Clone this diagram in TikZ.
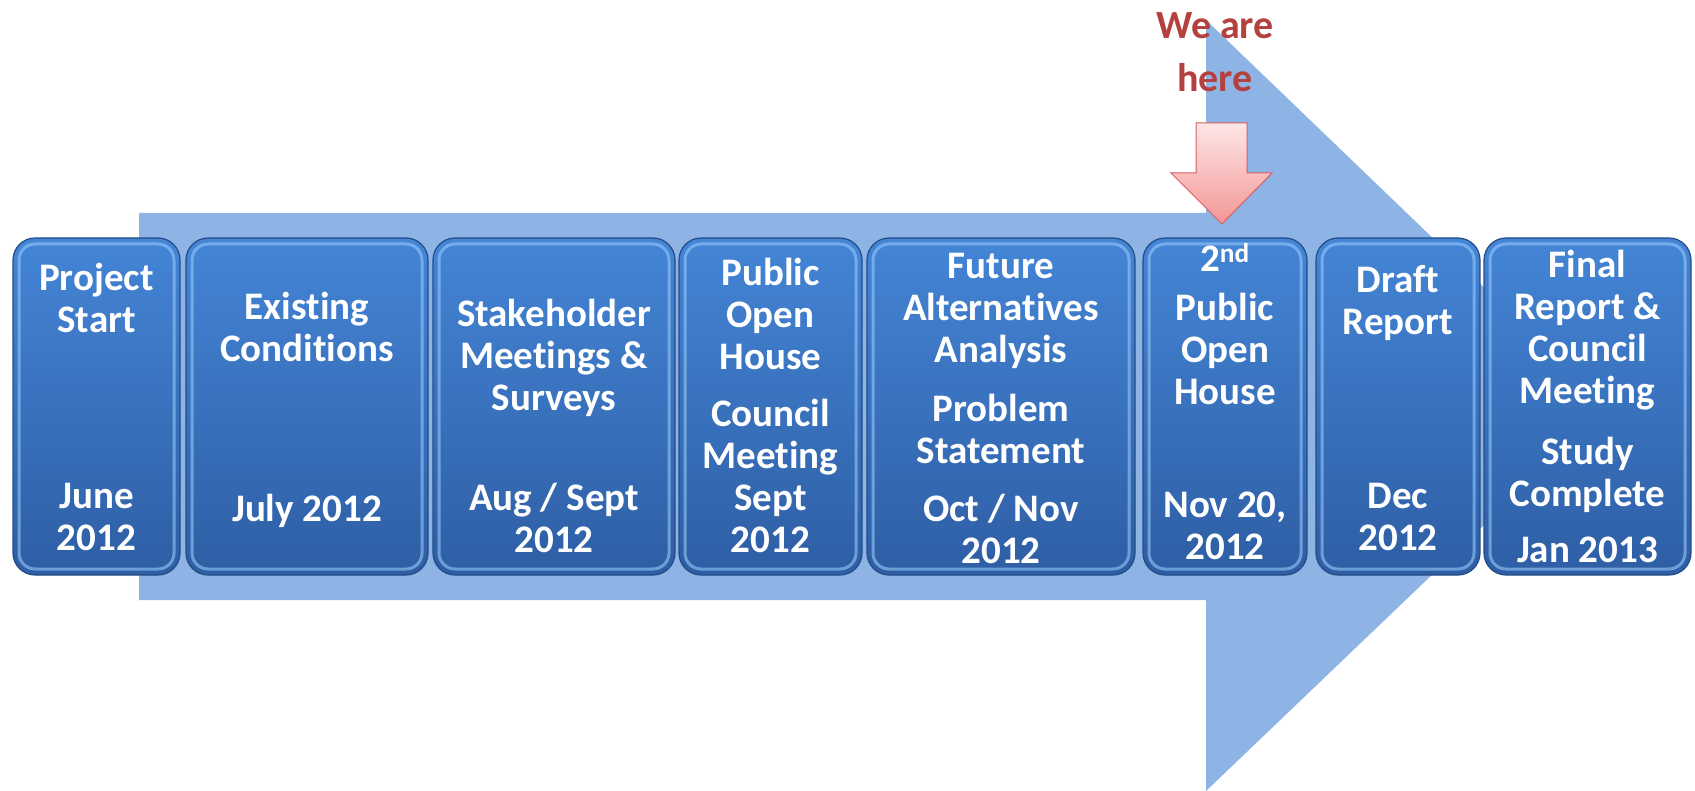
\documentclass[tikz,border=0pt]{standalone}
\usepackage{fontspec}
\setmainfont{Carlito}[Ligatures=NoCommon]
\definecolor{arrowblue}{RGB}{142,180,230}
\definecolor{boxtop}{RGB}{68,133,214}
\definecolor{boxbot}{RGB}{46,94,164}
\definecolor{boxedge}{RGB}{36,76,134}
\definecolor{boxhi}{RGB}{150,200,250}
\definecolor{pinktop}{RGB}{253,230,230}
\definecolor{pinkbot}{RGB}{243,150,150}
\definecolor{pinkedge}{RGB}{215,95,95}
\definecolor{herered}{RGB}{181,65,63}
\begin{document}
\begin{tikzpicture}[x=1pt,y=-1pt,
  stagebox/.style={draw=boxedge, line width=1.2pt, rounded corners=22pt,
    top color=boxtop, bottom color=boxbot, minimum height=337pt, inner sep=0pt,
    path picture={\draw[boxhi, line width=3pt, opacity=0.6, rounded corners=16pt]
      ([shift={(6pt,6pt)}]path picture bounding box.south west) rectangle
      ([shift={(-6pt,-6pt)}]path picture bounding box.north east);}},
  lbl/.style={text=white, font=\bfseries\fontsize{39}{42}\selectfont, align=center, inner sep=0pt},
  herelbl/.style={text=herered, font=\bfseries\fontsize{40}{53}\selectfont, align=center, inner sep=0pt},
]
\useasboundingbox (0,0) rectangle (1695,791);
% big background arrow
\fill[arrowblue] (139,213) -- (1206,213) -- (1206,20) -- (1608,406.5) -- (1206,791) -- (1206,600) -- (139,600) -- cycle;

% stage boxes
\node[stagebox, minimum width=167pt] (b1) at (96.5,406.5) {};
\node[stagebox, minimum width=242pt] (b2) at (307,406.5) {};
\node[stagebox, minimum width=242pt] (b3) at (554,406.5) {};
\node[stagebox, minimum width=183pt] (b4) at (770.5,406.5) {};
\node[stagebox, minimum width=268pt] (b5) at (1001,406.5) {};
\node[stagebox, minimum width=164pt] (b6) at (1225,406.5) {};
\node[stagebox, minimum width=164pt] (b7) at (1398,406.5) {};
\node[stagebox, minimum width=207pt] (b8) at (1587.5,406.5) {};

% labels
\node[lbl] (t1a) at (96.5,297.5) {Project\\Start};
\node[lbl] (t1b) at (96.5,516.5) {June\\2012};
\node[lbl] (t2a) at (307,326.5) {Existing\\Conditions};
\node[lbl] (t2b) at (307,510.5) {July 2012};
\node[lbl] (t3a) at (554,357.5) {Stakeholder\\Meetings \&\\Surveys};
\node[lbl] (t3b) at (554,517.5) {Aug / Sept\\2012};
\node[lbl] (t4a) at (770.5,313.5) {Public\\Open\\House};
\node[lbl] (t4b) at (770.5,475.5) {Council\\Meeting\\Sept\\2012};
\node[lbl] (t5a) at (1001,310.5) {Future\\Alternatives\\Analysis};
\node[lbl] (t5b) at (1001,428.5) {Problem\\Statement};
\node[lbl] (t5c) at (1001,529) {Oct / Nov\\2012};
\node[lbl] (t6a) at (1225,257) {2\textsuperscript{nd}};
\node[lbl] (t6b) at (1225,349) {Public\\Open\\House};
\node[lbl] (t6c) at (1225,525.5) {Nov 20,\\2012};
\node[lbl] (t7a) at (1398,303) {Draft\\Report};
\node[lbl] (t7b) at (1398,516.5) {Dec\\2012};
\node[lbl] (t8a) at (1587.5,330) {Final\\Report \&\\Council\\Meeting};
\node[lbl] (t8b) at (1587.5,474.5) {Study\\Complete};
\node[lbl] (t8c) at (1587.5,550) {Jan 2013};

% "We are here" marker
\node[herelbl, anchor=base] (here) at (1215,92) {We are\\here};
\draw[pinkedge, line width=1pt, top color=pinktop, bottom color=pinkbot]
  (1196,123) -- (1247,123) -- (1247,173) -- (1272,173) -- (1222,224) -- (1171,173) -- (1196,173) -- cycle;
\end{tikzpicture}
\end{document}
